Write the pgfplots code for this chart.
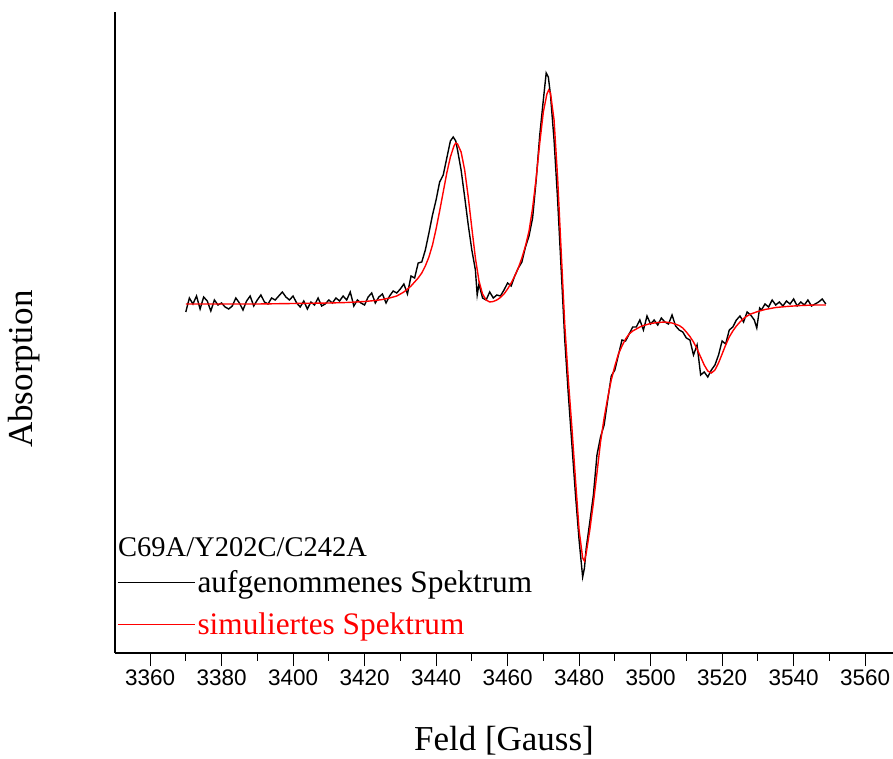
\documentclass[border=0pt]{standalone}
\usepackage{fontspec}
\setmainfont{Liberation Serif}
\newfontfamily\arialfont{Liberation Sans}
\usepackage{pgfplots}
\pgfplotsset{compat=1.18}

\pgfplotstableread{
B y
3370 -312
3371 -298
3372 -304
3373 -296
3374 -309
3375 -297
3376 -301
3377 -311
3378 -300
3379 -305
3380 -303
3381 -307
3382 -309
3383 -306
3384 -298
3385 -303
3386 -310
3387 -301
3388 -296
3389 -306
3390 -300
3391 -295
3392 -302
3393 -304
3394 -298
3395 -300
3396 -296
3397 -292
3398 -297
3399 -300
3400 -296
3401 -303
3402 -307
3403 -301
3404 -309
3405 -302
3406 -305
3407 -298
3408 -306
3409 -304
3410 -300
3411 -303
3412 -298
3413 -301
3414 -296
3415 -300
3416 -292
3417 -306
3418 -300
3419 -303
3420 -305
3421 -297
3422 -293
3423 -303
3424 -297
3425 -294
3426 -303
3427 -296
3428 -291
3429 -293
3430 -289
3431 -284
3432 -294
3433 -276
3434 -278
3435 -263
3436 -262
3437 -250
3438 -233
3439 -215
3440 -200
3441 -182
3442 -175
3443 -158
3444 -141
3444.8 -137
3445.5 -141
3446 -150
3447 -170
3448 -197
3449 -225
3450 -250
3451 -270
3451.5 -295
3452 -284
3453 -298
3454 -300
3455 -292
3456 -298
3457 -295
3458 -296
3459 -290
3460 -283
3461 -286
3462 -276
3463 -268
3464 -262
3465 -247
3466 -236
3467 -218
3468 -180
3469 -135
3470 -100
3470.8 -73
3471.4 -77
3472 -95
3473 -140
3474 -200
3475 -270
3476 -340
3477 -395
3478 -445
3479 -495
3480 -540
3481 -577
3481.5 -568
3482 -548
3483 -522
3484 -495
3485 -455
3486 -437
3487 -425
3488 -400
3489 -376
3490 -370
3491 -355
3492 -340
3493 -341
3494 -334
3495 -327
3496 -327
3497 -320
3498 -330
3499 -316
3500 -324
3501 -320
3502 -325
3503 -318
3504 -322
3505 -324
3506 -315
3507 -326
3508 -330
3509 -332
3510 -338
3511 -340
3512 -355
3513 -345
3514 -375
3515 -372
3516 -377
3517 -370
3518 -365
3519 -355
3520 -341
3521 -344
3522 -330
3523 -327
3524 -320
3525 -316
3526 -322
3527 -312
3528 -315
3529 -320
3529.7 -328
3530.5 -308
3531 -310
3532 -304
3533 -307
3534 -300
3535 -305
3536 -302
3537 -306
3538 -301
3539 -304
3540 -299
3541 -306
3542 -302
3543 -305
3544 -300
3545 -306
3546 -304
3547 -302
3548 -299
3549 -304
}\measured

\pgfplotstableread{
B y
3370 -304
3380 -304
3390 -304
3400 -303.5
3410 -303
3415 -302.5
3420 -301.5
3423 -300.5
3425 -299.5
3427 -298
3429 -296
3431 -292
3432 -289
3433 -286
3434 -282
3435 -278
3436 -273
3437 -266
3438 -257
3439 -245
3440 -229
3441 -211
3442 -192
3443 -173
3444 -157
3445 -146
3445.5 -143
3446 -144
3447 -152
3448 -170
3449 -197
3450 -228
3451 -258
3452 -281
3453 -294
3454 -300
3455 -302
3456 -301.5
3457 -300
3458 -297.5
3459 -294
3460 -289
3461 -283
3462 -276
3463 -268
3464 -258
3465 -246
3466 -231
3467 -208
3468 -178
3469 -143
3470 -112
3471 -94
3471.5 -90
3472 -93
3473 -120
3474 -178
3475 -252
3476 -325
3477 -380
3478 -428
3479 -480
3480 -530
3481 -558
3481.5 -561
3482 -553
3483 -530
3484 -503
3485 -473
3486 -442
3487 -418
3488 -398
3489 -380
3490 -366
3491 -354
3492 -346
3493 -339
3494 -334
3495 -331
3496 -329
3497 -327
3498 -325.5
3500 -323.5
3502 -322.5
3504 -322
3506 -323
3508 -325.5
3509 -328
3510 -332
3511 -336.5
3512 -342
3513 -349
3514 -357
3515 -365
3516 -371
3517 -373
3518 -370
3519 -363
3520 -354
3521 -345
3522 -337
3523 -331
3524 -326
3525 -322
3526 -318.5
3527 -316
3528 -314
3530 -311.5
3532 -309.5
3535 -307.5
3538 -306.5
3542 -305.5
3546 -305
3549 -305
}\simulated

\begin{document}
\begin{tikzpicture}
\useasboundingbox (-115pt,-105pt) rectangle (778pt,653pt);
\begin{axis}[
  at={(0pt,0pt)}, anchor=south west,
  scale only axis, width=778pt, height=641pt,
  xmin=3350.2, xmax=3567.8, ymin=-653, ymax=-12,
  axis x line=bottom, axis y line=left,
  axis line style={-, line width=1.1pt, black},
  ytick=\empty,
  xtick={3360,3380,...,3560}, minor x tick num=1,
  tick align=outside, major tick length=13pt, minor tick length=7.5pt,
  every tick/.style={line width=1pt, black},
  /pgf/number format/assume math mode=true,
  /pgf/number format/1000 sep={},
  xticklabel style={font=\arialfont\fontsize{22.5}{24}\selectfont},
  xlabel={Feld [Gauss]}, ylabel={Absorption},
  label style={font=\fontsize{35}{40}\selectfont},
  xlabel style={at={(axis description cs:0.5,-0.137)}, anchor=center},
  ylabel style={at={(axis description cs:-0.117,0.443)}, anchor=center, rotate=0},
  legend style={at={(axis description cs:0.0025,0.132)}, anchor=north west, draw=none, fill=none,
    font=\fontsize{31.3}{36}\selectfont, inner xsep=0pt, inner ysep=0pt, row sep=15pt,
    cells={anchor=west}},
  legend image code/.code={\draw[#1, line width=1.4pt] (0pt,0pt) -- (71pt,0pt); \path (0pt,0pt) -- (77pt,0pt);},
  clip=false,
]
\addplot[black, line width=1.4pt] table[x=B, y=y] {\measured};
\addlegendentry{aufgenommenes Spektrum}
\addplot[red, line width=1.4pt] table[x=B, y=y] {\simulated};
\addlegendentry{\textcolor{red}{simuliertes Spektrum}}
\node[anchor=base west, inner sep=0pt, font=\fontsize{28.5}{32}\selectfont] at (axis cs:3351.05,-556) {C69A/Y202C/C242A};
\end{axis}
\end{tikzpicture}
\end{document}
